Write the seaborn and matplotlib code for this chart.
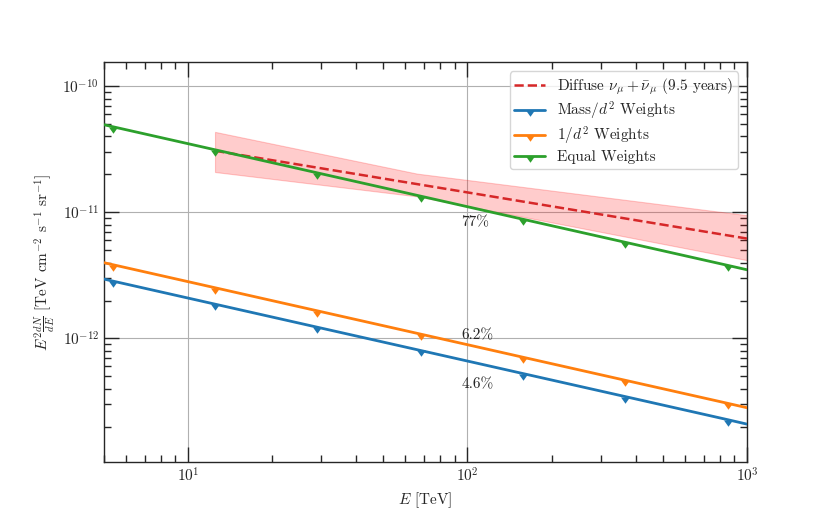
import numpy as np
import pandas as pd
import matplotlib
matplotlib.use("Agg")
import matplotlib.pyplot as plt
import seaborn as sns

# ---- data ----
energy = [5.0, 5.4, 12.5, 29.0, 68.0, 158.0, 367.0, 853.0, 1000.0]
mass_w = [2.961e-12, 2.849e-12, 1.872e-12, 1.229e-12, 8.03e-13, 5.27e-13, 3.46e-13, 2.27e-13, 2.093e-13]
inv_d2_w = [3.994e-12, 3.843e-12, 2.526e-12, 1.658e-12, 1.083e-12, 7.10e-13, 4.66e-13, 3.06e-13, 2.824e-13]
equal_w = [4.960e-11, 4.772e-11, 3.137e-11, 2.059e-11, 1.345e-11, 8.82e-12, 5.79e-12, 3.80e-12, 3.507e-12]
marker_idx = [1, 2, 3, 4, 5, 6, 7]

diffuse_e = [12.5, 100.0, 1000.0]
diffuse_flux = [3.08e-11, 1.44e-11, 6.2e-12]
band_e = [12.5, 66.0, 1000.0]
band_hi = [4.35e-11, 2.03e-11, 9.5e-12]
band_lo = [2.09e-11, 1.34e-11, 4.18e-12]

annot_text = ["77%", "6.2%", "4.6%"]
annot_x = [95.0, 95.0, 95.0]
annot_y = [8.35e-12, 1.06e-12, 4.36e-13]

labels = [r"Diffuse $\nu_\mu + \bar{\nu}_\mu$ (9.5 years)", r"Mass/$d^2$ Weights",
          r"$1/d^2$ Weights", "Equal Weights"]

# ---- style ----
sns.set_style("ticks")
plt.rcParams.update({
    "font.family": ["serif"],
    "font.serif": ["cmr10", "DejaVu Serif"],
    "mathtext.fontset": "cm",
    "axes.formatter.use_mathtext": True,
    "font.size": 11,
    "axes.unicode_minus": False,
})

fig, ax = plt.subplots(figsize=(8.3, 5.19), dpi=100)

tri = [(-1.0, 0.0), (1.0, 0.0), (0.0, -1.4), (-1.0, 0.0)]

df = pd.DataFrame({"E": energy, "mass": mass_w, "inv": inv_d2_w, "equal": equal_w})
ddf = pd.DataFrame({"E": diffuse_e, "F": diffuse_flux})

ax.fill_between(band_e, band_lo, band_hi, color="red", alpha=0.2, lw=0.8)
sns.lineplot(data=ddf, x="E", y="F", ax=ax, color="#d62728", lw=1.8, ls="--",
             label=labels[0], sort=False, zorder=3)
cols = ["#1f77b4", "#ff7f0e", "#2ca02c"]
for key, c, lab in zip(["mass", "inv", "equal"], cols, labels[1:]):
    sns.lineplot(data=df, x="E", y=key, ax=ax, color=c, lw=2, marker=tri,
                 markevery=marker_idx, markersize=9, markeredgewidth=0,
                 label=lab, sort=False, zorder=4)

for t, x, y in zip(annot_text, annot_x, annot_y):
    ax.text(x, y, t, ha="left", va="center", fontsize=11)

ax.set_xscale("log")
ax.set_yscale("log")
ax.set_xlim(5, 1000)
ax.set_ylim(1.05e-13, 1.55e-10)
ax.grid(True, which="major", color="#b0b0b0", lw=0.8)
ax.set_axisbelow(True)
ax.tick_params(which="both", direction="in", top=True, right=True, width=1)
ax.tick_params(which="major", length=10.5)
ax.tick_params(which="minor", length=5)
ax.set_xlabel(r"$E$ [TeV]")
ax.set_ylabel(r"$E^2\frac{dN}{dE}$ [TeV cm$^{-2}$ s$^{-1}$ sr$^{-1}$]")
for s in ax.spines.values():
    s.set_linewidth(1.0)

ax.legend(loc="upper right", fontsize=11, frameon=True, labelspacing=0.2,
          borderpad=0.3, handletextpad=0.8, borderaxespad=0.6)

fig.savefig("out.png", dpi=100)
